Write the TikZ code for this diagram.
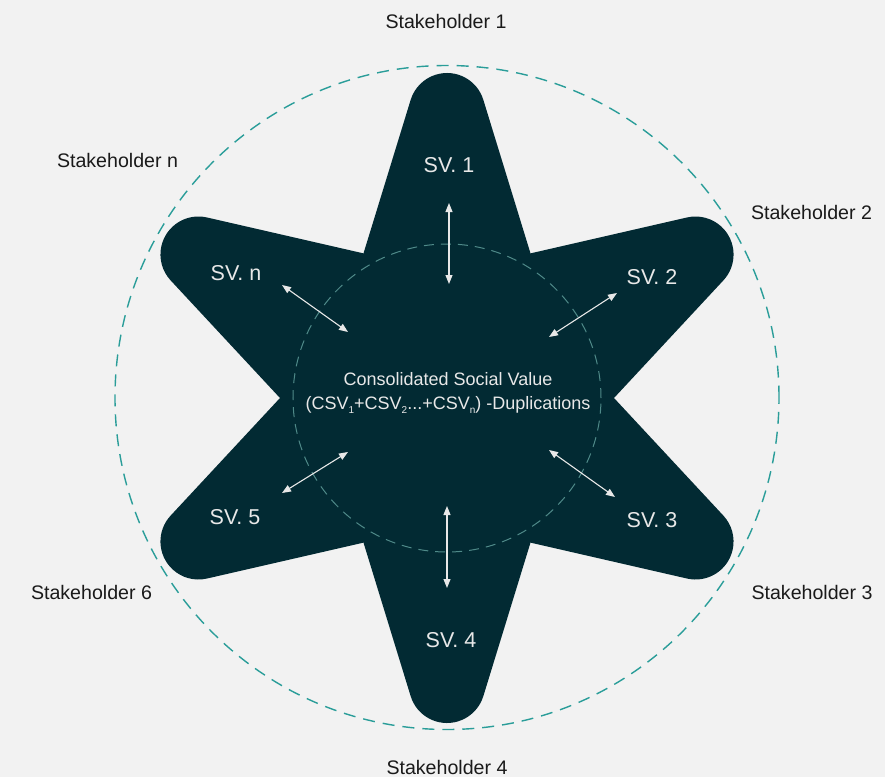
\documentclass[tikz,border=0pt]{standalone}
\usepackage{fontspec}
\setmainfont{Liberation Sans}
\usetikzlibrary{arrows.meta}
\definecolor{bgc}{HTML}{F2F2F2}
\definecolor{starc}{HTML}{022A33}
\definecolor{tealout}{HTML}{2A9D99}
\definecolor{tealin}{HTML}{4F8A89}
\definecolor{lt}{HTML}{E8E8E8}
\definecolor{dk}{HTML}{1A1A1A}
\newcommand{\mysub}[1]{\raisebox{-3.5pt}{\fontsize{10}{10}\selectfont #1}}
\begin{document}
\begin{tikzpicture}[x=1pt,y=1pt,
  shlabel/.style={font=\fontsize{19.6}{23}\selectfont, text=dk, inner sep=0pt},
  svlabel/.style={font=\fontsize{21.5}{25}\selectfont, text=lt, inner sep=0pt},
  csvlabel/.style={font=\fontsize{18}{24}\selectfont, text=lt, align=center, inner sep=0pt},
  dblarrow/.style={draw=lt, line width=1.1pt, {Triangle[length=9pt,width=7pt]}-{Triangle[length=9pt,width=7pt]}},
]
\fill[bgc] (-447,-379) rectangle (438,398);
\useasboundingbox (-447,-379) rectangle (438,398);
% star
\fill[starc] (0:167) \foreach \t in {30,90,...,330} { -- ([shift={(\t:287)}]\t-73:38) arc[start angle=\t-73,end angle=\t+73,radius=38] -- (\t+30:167) } -- cycle;
% circles
\draw[tealout, line width=1.4pt, dash pattern=on 12pt off 8pt] (0,0.5) circle[radius=332];
\draw[tealin, line width=1pt, dash pattern=on 10pt off 7pt] (0,0) circle[radius=154];
% center text
\node[csvlabel] (csv) at (1,5) {Consolidated Social Value\\(CSV\mysub{1}+CSV\mysub{2}...+CSV\mysub{n}) -Duplications};
% SV labels
\node[svlabel] (sv1) at (2,233) {SV. 1};
\node[svlabel] (sv2) at (205,121) {SV. 2};
\node[svlabel] (sv3) at (205,-122) {SV. 3};
\node[svlabel] (sv4) at (4,-242) {SV. 4};
\node[svlabel] (sv5) at (-212,-119) {SV. 5};
\node[svlabel] (svn) at (-211,125) {SV. n};
% stakeholders
\node[shlabel] (sh1) at (-1,377) {Stakeholder 1};
\node[shlabel] (sh2) at (364.5,186) {Stakeholder 2};
\node[shlabel] (sh3) at (365,-194) {Stakeholder 3};
\node[shlabel] (sh4) at (0,-369) {Stakeholder 4};
\node[shlabel] (sh6) at (-355.5,-194) {Stakeholder 6};
\node[shlabel] (shn) at (-329.5,238) {Stakeholder n};
% arrow end points
\coordinate (a1o) at (2,195);   \coordinate (a1i) at (2,114);
\coordinate (a2o) at (170,105); \coordinate (a2i) at (102,61);
\coordinate (a3o) at (168,-99); \coordinate (a3i) at (102,-52);
\coordinate (a4o) at (0,-190);  \coordinate (a4i) at (0,-108);
\coordinate (a5o) at (-165,-95); \coordinate (a5i) at (-99,-54);
\coordinate (a6o) at (-165,113); \coordinate (a6i) at (-99,66);
\draw[dblarrow] (a1o) -- (a1i);
\draw[dblarrow] (a2o) -- (a2i);
\draw[dblarrow] (a3o) -- (a3i);
\draw[dblarrow] (a4o) -- (a4i);
\draw[dblarrow] (a5o) -- (a5i);
\draw[dblarrow] (a6o) -- (a6i);
\end{tikzpicture}
\end{document}
